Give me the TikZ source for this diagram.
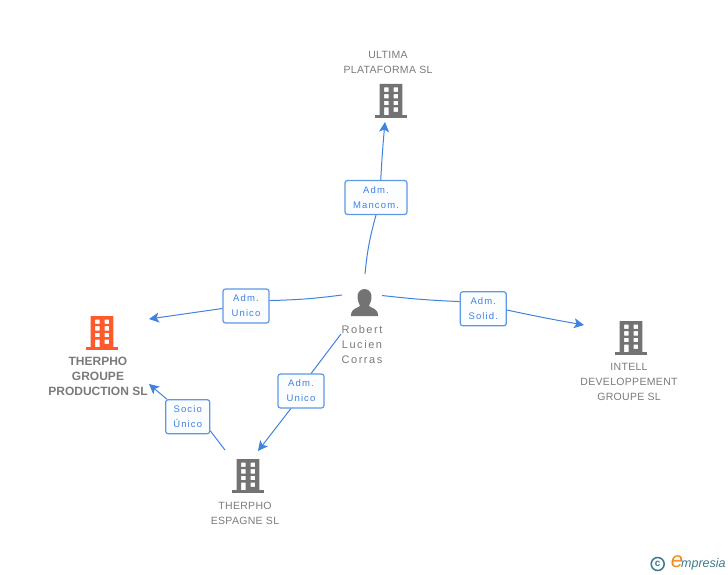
\documentclass[tikz,border=0pt]{standalone}
\usepackage{fontspec}
\setmainfont{Liberation Sans}
\newfontfamily\spacedfont[LetterSpace=3]{Liberation Sans}
\newfontfamily\widefont[LetterSpace=14]{Liberation Sans}
\newfontfamily\rolefont[LetterSpace=12]{Liberation Sans}
\usetikzlibrary{arrows.meta}
\definecolor{linkblue}{HTML}{3F82E0}
\definecolor{boxblue}{HTML}{5D97E6}
\definecolor{rolefill}{HTML}{FCFDFF}
\definecolor{icongrey}{HTML}{737373}
\definecolor{iconred}{HTML}{FF5A2C}
\definecolor{namegrey}{HTML}{7A7A7A}
\definecolor{logoteal}{HTML}{3A7A90}
\definecolor{logoorange}{HTML}{F28A1E}
\tikzset{
    link/.style={draw=linkblue, line width=1pt},
    linkto/.style={link, -{Stealth[length=10pt,width=10pt,inset=2.5pt]}},
    rolebox/.style={draw=boxblue, line width=1.2pt, fill=rolefill, rounded corners=2.5pt,
        text=linkblue, minimum width=#1, minimum height=34pt, inner sep=0pt, align=center,
        font=\fontsize{9.5}{15}\rolefont},
    rolebox/.default=46pt,
    plainname/.style={text=namegrey, align=center, inner sep=0pt, font=\fontsize{10.5}{15}\spacedfont},
    personname/.style={text=namegrey, align=center, inner sep=0pt, font=\fontsize{11}{15}\widefont},
    mainname/.style={text=namegrey, align=center, inner sep=0pt, font=\fontsize{12}{15}\selectfont\bfseries},
    building/.pic={
        \fill[even odd rule, pic actions]
            (-11.3,-2) rectangle (11.3,-34)
            (-6.9,-30.5) rectangle (-2.3,-26.1)
            (2.5,-30.5) rectangle (7.2,-26.1)
            (-6.9,-23.9) rectangle (-2.3,-19.5)
            (2.5,-23.9) rectangle (7.2,-19.5)
            (-6.9,-17.2) rectangle (-2.3,-12.8)
            (2.5,-17.2) rectangle (7.2,-12.8)
            (-6.9,-10.5) rectangle (-2.3,-2)
            (2.5,-10.5) rectangle (7.2,-6.1);
        \fill[pic actions] (-15.7,-3) rectangle (15.7,0);
    },
}
\begin{document}
\begin{tikzpicture}[x=1pt, y=-1pt]
    \useasboundingbox (0,0) rectangle (728,575);
    % companies
    \pic[icongrey, fill=icongrey] at (391,118) {building};
    \pic[iconred, fill=iconred] at (102,350) {building};
    \pic[icongrey, fill=icongrey] at (248,493) {building};
    \pic[icongrey, fill=icongrey] at (631,355) {building};
    \node[plainname] (ultima) at (388,62.5) {ULTIMA\\PLATAFORMA SL};
    \node[mainname] (therpho) at (98,376.5) {THERPHO\\GROUPE\\PRODUCTION SL};
    \node[plainname] (espagne) at (245,513.5) {THERPHO\\ESPAGNE SL};
    \node[plainname] (intell) at (629,382) {INTELL\\DEVELOPPEMENT\\GROUPE SL};
    % person
    \fill[icongrey] (364.5,289) .. controls (370,289) and (372,294) .. (371.5,298)
        .. controls (371,302) and (369.5,304) .. (369,306)
        .. controls (372,308.5) and (378,308) .. (378,316) -- (351,316)
        .. controls (351,308) and (357,308.5) .. (360,306)
        .. controls (359.5,304) and (358,302) .. (357.5,298)
        .. controls (357,294) and (359,289) .. (364.5,289) -- cycle;
    \node[personname] (robert) at (362,345) {Robert\\Lucien\\Corras};
    % roles
    \node[rolebox=62pt] (mancom) at (376,197.5) {Adm.\\Mancom.};
    \node[rolebox] (unicoa) at (246,306) {Adm.\\Unico};
    \node[rolebox] (solid) at (483.3,308.8) {Adm.\\Solid.};
    \node[rolebox] (unicob) at (301,391) {Adm.\\Unico};
    \node[rolebox=44pt] (socio) at (187.7,416.7) {Socio\\Único};
    % links
    \coordinate (robertn) at (365,274);
    \coordinate (robertw) at (342,295);
    \coordinate (roberte) at (382,295.5);
    \coordinate (roberts) at (341,334);
    \coordinate (ultimain) at (385,122);
    \coordinate (therphoin) at (149,319);
    \coordinate (therphoinb) at (149,384);
    \coordinate (intellin) at (584,325);
    \coordinate (espagnein) at (258,451);
    \coordinate (espagneout) at (225,450);
    \draw[link] (robertn) to[bend left=5] (mancom.south);
    \draw[linkto] (mancom.75) to[bend left=1] (ultimain);
    \draw[link] (robertw) to[bend left=3] (unicoa.13);
    \draw[linkto] (unicoa.186) -- (therphoin);
    \draw[link] (roberte) to[bend right=2] (solid.163);
    \draw[linkto] (solid.-3) to[bend right=1] (intellin);
    \draw[link] (roberts) -- (unicob.60);
    \draw[linkto] (unicob.-120) -- (espagnein);
    \draw[link] (espagneout) -- (socio.-32);
    \draw[linkto] (socio.140) -- (therphoinb);
    % logo
    \node[draw=logoteal, line width=1.5pt, circle, minimum size=13pt, inner sep=0pt,
        text=logoteal, font=\fontsize{10}{10}\selectfont\bfseries] (copyr) at (657.7,564) {c};
    \node[text=logoorange, inner sep=0pt, font=\fontsize{22}{22}\selectfont\itshape] (logoe) at (677,562) {e};
    \node[text=logoteal, inner sep=0pt, anchor=west, font=\fontsize{12.5}{12}\selectfont\itshape] (logotext) at (681,564) {mpresia};
\end{tikzpicture}
\end{document}
